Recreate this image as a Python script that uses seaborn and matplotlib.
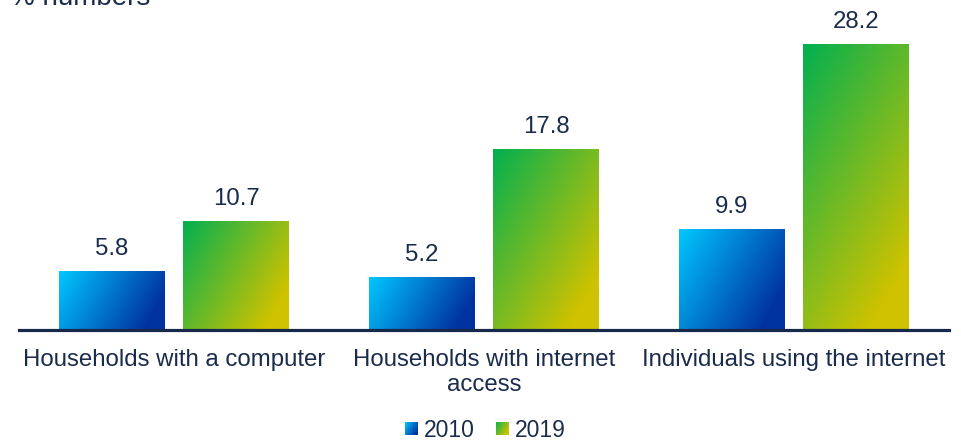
import numpy as np
import pandas as pd
import matplotlib
matplotlib.use("Agg")
import matplotlib.pyplot as plt
from matplotlib.colors import to_rgb
from matplotlib.patches import Rectangle
from matplotlib.legend_handler import HandlerBase
import seaborn as sns

# ---- data -------------------------------------------------------------
categories = ["Households with a computer",
              "Households with internet\naccess",
              "Individuals using the internet"]
years = ["2010", "2019"]
values_2010 = [5.8, 5.2, 9.9]
values_2019 = [10.7, 17.8, 28.2]

# gradient end colours for each series (start -> end)
gradients = {
    "2010": ("#00c8ff", "#0033a0"),
    "2019": ("#00b050", "#cfc200"),
}
text_color = "#1a2b4b"

df = pd.DataFrame({
    "category": categories * 2,
    "year": [years[0]] * 3 + [years[1]] * 3,
    "value": values_2010 + values_2019,
})

# ---- style ------------------------------------------------------------
sns.set_theme(style="white")
plt.rcParams["font.family"] = ["Liberation Sans", "DejaVu Sans"]
plt.rcParams["text.color"] = text_color

W, H, DPI = 961, 441, 100
fig = plt.figure(figsize=(W / DPI, H / DPI), dpi=DPI)
ax_left, ax_right = 19 / W, 949 / W
ax_bottom = (H - 330.3) / H
ymax = 30
ax_height = ymax * 10.12 / H
ax = fig.add_axes([ax_left, ax_bottom, ax_right - ax_left, ax_height])

sns.barplot(data=df, x="category", y="value", hue="year", hue_order=years,
            palette=[gradients[y][0] for y in years], width=0.8, gap=0.153,
            legend=False, ax=ax)
ax.set_xlim(-0.5, 2.5)
ax.set_ylim(0, ymax)

ANGLE = np.deg2rad(30)
END_STOP = 0.85


def gradient_image(c0, c1, nx, ny):
    """Linear gradient running down-right at a fixed angle in pixel space."""
    xs = np.arange(nx) + 0.5
    ys = np.arange(ny) + 0.5
    X, Y = np.meshgrid(xs, ys)
    proj = X * np.cos(ANGLE) + Y * np.sin(ANGLE)
    t = np.clip(proj / (nx * np.cos(ANGLE) + ny * np.sin(ANGLE)) / END_STOP, 0, 1)
    a, b = np.array(to_rgb(c0)), np.array(to_rgb(c1))
    return a + (b - a) * t[..., None]


px_per_x = ax.transData.transform((1, 0))[0] - ax.transData.transform((0, 0))[0]
px_per_y = ax.transData.transform((0, 1))[1] - ax.transData.transform((0, 0))[1]

for year, container in zip(years, ax.containers):
    c0, c1 = gradients[year]
    for bar, val in zip(container.patches, container.datavalues):
        x0, w, h = bar.get_x(), bar.get_width(), bar.get_height()
        nx = max(int(round(w * px_per_x)), 2)
        ny = max(int(round(h * px_per_y)), 2)
        img = gradient_image(c0, c1, nx, ny)
        ax.imshow(img, extent=[x0, x0 + w, 0, h], origin="upper",
                  aspect="auto", interpolation="bilinear", zorder=2)
        bar.set_visible(False)
        ax.annotate(f"{val:.1f}", (x0 + w / 2, h), xytext=(0, 8.5),
                    textcoords="offset points", ha="center", va="bottom",
                    fontsize=17.3, color=text_color)

ax.set_xlim(-0.5, 2.5)
ax.set_ylim(0, ymax)
ax.set_xlabel("")
ax.set_ylabel("")
ax.set_yticks([])
for side in ("left", "top", "right"):
    ax.spines[side].set_visible(False)
ax.spines["bottom"].set_color("#17294a")
ax.spines["bottom"].set_linewidth(2.3)
ax.spines["bottom"].set_zorder(3)
ax.tick_params(axis="x", length=0, pad=13.5, labelsize=17.3, labelcolor=text_color)
for lbl in ax.get_xticklabels():
    lbl.set_linespacing(1.2)


# ---- legend with gradient swatches -------------------------------------
class GradientSwatch(HandlerBase):
    def __init__(self, c0, c1, n=8):
        super().__init__()
        self.c0, self.c1, self.n = c0, c1, n

    def create_artists(self, legend, orig_handle, xdescent, ydescent,
                       width, height, fontsize, trans):
        side = min(width, height)
        x0 = -xdescent + (width - side) / 2
        y0 = -ydescent + (height - side) / 2
        img = gradient_image(self.c0, self.c1, self.n, self.n)
        step = side / self.n
        arts = []
        for i in range(self.n):          # rows, top to bottom
            for j in range(self.n):
                r = Rectangle((x0 + j * step, y0 + side - (i + 1) * step),
                              step * 1.02, step * 1.02, facecolor=img[i, j],
                              edgecolor="none", transform=trans)
                arts.append(r)
        return arts


proxies = [Rectangle((0, 0), 1, 1) for _ in years]
fig.legend(proxies, years, loc="lower center", bbox_to_anchor=(0.505, -0.048),
           ncol=2, frameon=False, fontsize=16.5, handlelength=0.58,
           handleheight=0.58, handletextpad=0.25, columnspacing=0.9,
           handler_map={p: GradientSwatch(*gradients[y]) for p, y in zip(proxies, years)})

fig.text(10 / W, (H - 5) / H, "% numbers", fontsize=20, color=text_color,
         ha="left", va="baseline")

fig.savefig("out.png", dpi=DPI)
